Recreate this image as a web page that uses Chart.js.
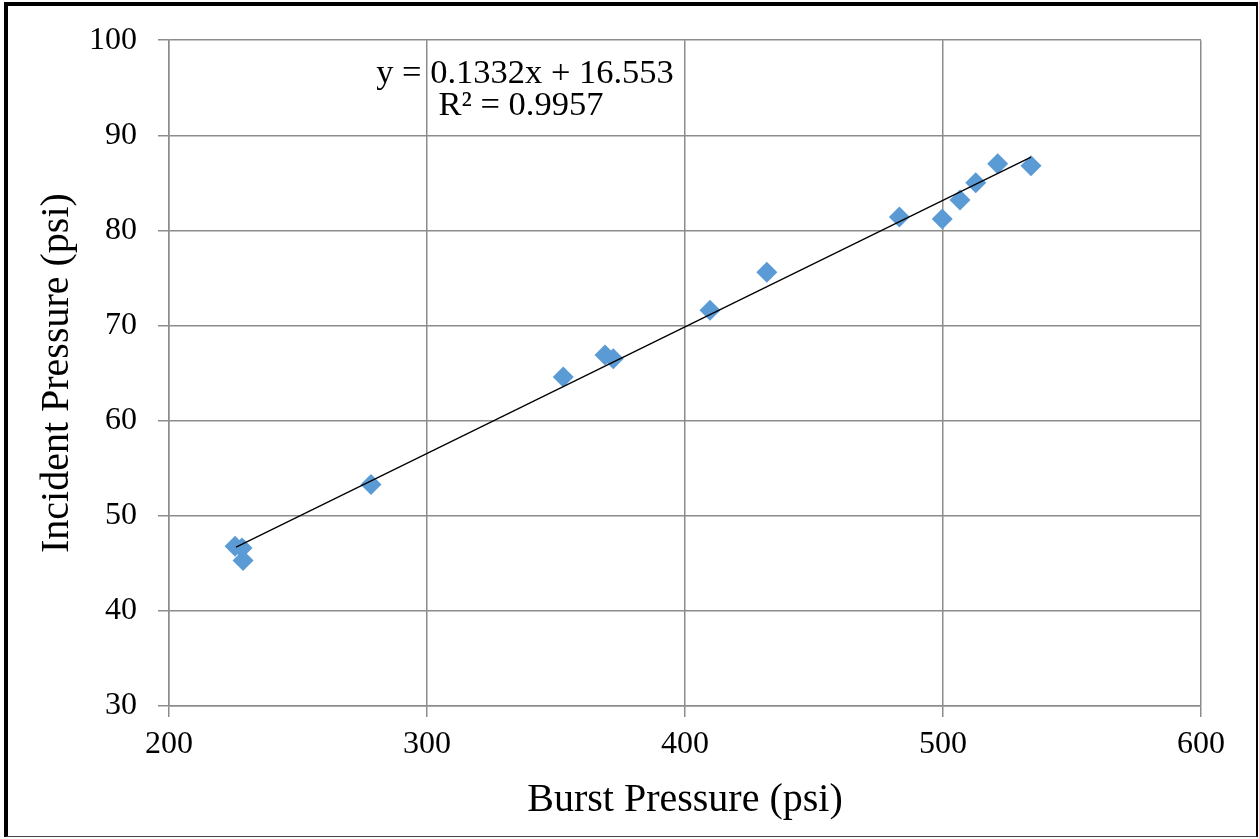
<!DOCTYPE html>
<html>
<head>
<meta charset="utf-8">
<title>Incident vs Burst Pressure</title>
<script src="https://cdn.jsdelivr.net/npm/chart.js@4"></script>
<style>
  html, body { margin: 0; padding: 0; background: #fff; overflow: hidden; }
  #wrap { position: relative; width: 1259px; height: 839px; }
  #frame {
    position: absolute; left: 4px; top: 2px; width: 1254px; height: 835px;
    box-sizing: border-box; pointer-events: none;
    border-left: 4px solid #000; border-top: 4px solid #000;
    border-right: 2px solid #000; border-bottom: 1px solid #444;
  }
</style>
</head>
<body>
<div id="wrap">
  <canvas id="chart" width="1259" height="839"></canvas>
  <div id="frame"></div>
</div>
<script>
// Measured points (psi)
const burstPressure = [225.6, 228.3, 228.7, 278.3, 352.8, 369.0, 372.2, 409.7, 431.7, 483.1, 499.7, 506.6, 512.7, 521.2, 534.1];
const incidentPressure = [46.8, 46.6, 45.3, 53.3, 64.6, 66.9, 66.5, 71.6, 75.6, 81.4, 81.2, 83.2, 85.0, 87.0, 86.8];

// Linear trendline end points, as drawn
const trendX = [226.0, 534.1];
const trendY = [46.7, 87.7];

const equationLines = ['y = 0.1332x + 16.553', 'R\u00b2 = 0.9957'];

const FONT = "'Liberation Serif', 'Times New Roman', serif";
const GRID = '#8c8c8c';

// Draws the trendline label in the upper left of the plot
const equationLabel = {
  id: 'equationLabel',
  afterDraw(chart) {
    const { ctx, chartArea } = chart;
    ctx.save();
    ctx.fillStyle = '#000';
    ctx.font = '34.5px ' + FONT;
    ctx.textAlign = 'center';
    ctx.textBaseline = 'alphabetic';
    ctx.fillText(equationLines[0], chartArea.left + 356, chartArea.top + 43);
    ctx.fillText(equationLines[1], chartArea.left + 352, chartArea.top + 75);
    ctx.restore();
  }
};

const ctx = document.getElementById('chart').getContext('2d');

new Chart(ctx, {
  type: 'scatter',
  data: {
    datasets: [
      {
        type: 'line',
        data: trendX.map((x, i) => ({ x: x, y: trendY[i] })),
        borderColor: '#000',
        borderWidth: 1.3,
        pointRadius: 0,
        fill: false,
        order: 0
      },
      {
        data: burstPressure.map((x, i) => ({ x: x, y: incidentPressure[i] })),
        pointStyle: 'rectRot',
        pointRadius: 10.5,
        backgroundColor: '#5b9bd5',
        borderColor: '#5b9bd5',
        borderWidth: 0,
        order: 1
      }
    ]
  },
  options: {
    responsive: false,
    animation: false,
    layout: {
      padding: { left: 33, right: 58, top: 40, bottom: 15 }
    },
    plugins: {
      legend: { display: false },
      tooltip: { enabled: false }
    },
    scales: {
      x: {
        type: 'linear',
        min: 200,
        max: 600,
        ticks: {
          stepSize: 100,
          color: '#000',
          padding: 8,
          font: { family: FONT, size: 32 }
        },
        grid: { color: GRID, lineWidth: 1.5, tickLength: 11, tickColor: GRID },
        border: { color: GRID, width: 1.5 },
        title: {
          display: true,
          text: 'Burst Pressure (psi)',
          color: '#000',
          padding: 0,
          font: { family: FONT, size: 40 }
        },
        afterFit(scale) { scale.height = 118; }
      },
      y: {
        min: 30,
        max: 100,
        ticks: {
          stepSize: 10,
          color: '#000',
          padding: 21,
          font: { family: FONT, size: 32 }
        },
        grid: { color: GRID, lineWidth: 1.5, tickLength: 11, tickColor: GRID },
        border: { color: GRID, width: 1.5 },
        title: {
          display: true,
          text: 'Incident Pressure (psi)',
          color: '#000',
          padding: 0,
          font: { family: FONT, size: 40 }
        },
        afterFit(scale) { scale.width = 136; }
      }
    }
  },
  plugins: [equationLabel]
});
</script>
</body>
</html>
